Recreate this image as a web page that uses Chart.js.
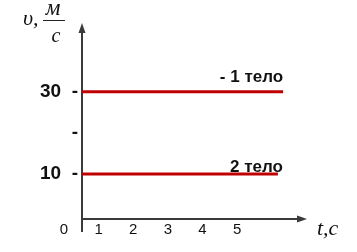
<!DOCTYPE html>
<html>
<head>
<meta charset="utf-8">
<script src="https://cdn.jsdelivr.net/npm/chart.js@4"></script>
<style>
  body { margin: 0; background: #fff; }
  #wrap { width: 357px; height: 252px; }
</style>
</head>
<body>
<div id="wrap"><canvas id="myChart" width="357" height="252"></canvas></div>
<script>
// ==== данные графика ====
const bodyNames = ['- 1 тело', '2 тело'];
const time1 = [0, 5.81];
const speed1 = [30, 30];
const time2 = [0, 5.66];
const speed2 = [10, 10];

const xTicks = [0, 1, 2, 3, 4, 5];
const yTicks = [10, 20, 30];
const yTickLabels = ['10  -', '-', '30  -'];

const xTitle = 't,c';
const yTitle = 'υ,';
const yUnitTop = 'м';
const yUnitBottom = 'с';

const lineColor = '#c00000';
const axisColor = '#3a3a3a';

const toPoints = (xs, ys) => xs.map((x, i) => ({ x: x, y: ys[i] }));

// ==== оси со стрелками ====
const axesPlugin = {
    id: 'axesPlugin',
    beforeDatasetsDraw(chart) {
        const ctx = chart.ctx;
        const a = chart.chartArea;
        ctx.save();
        ctx.strokeStyle = axisColor;
        ctx.fillStyle = axisColor;
        ctx.lineWidth = 2;

        ctx.beginPath();
        ctx.moveTo(a.left, a.top + 6);
        ctx.lineTo(a.left, a.bottom + 13);
        ctx.moveTo(a.left, a.bottom);
        ctx.lineTo(a.right - 6, a.bottom);
        ctx.stroke();

        // стрелка вверх
        ctx.beginPath();
        ctx.moveTo(a.left, a.top - 2);
        ctx.lineTo(a.left - 3.5, a.top + 8);
        ctx.lineTo(a.left + 3.5, a.top + 8);
        ctx.closePath();
        ctx.fill();

        // стрелка вправо
        ctx.beginPath();
        ctx.moveTo(a.right, a.bottom);
        ctx.lineTo(a.right - 10, a.bottom - 3.5);
        ctx.lineTo(a.right - 10, a.bottom + 3.5);
        ctx.closePath();
        ctx.fill();
        ctx.restore();
    },
    afterDatasetsDraw(chart) {
        const ctx = chart.ctx;
        const a = chart.chartArea;
        ctx.save();
        ctx.fillStyle = '#111';

        // подписи тел над линиями
        ctx.font = 'bold 17px "Liberation Sans", Arial, sans-serif';
        ctx.textAlign = 'right';
        ctx.textBaseline = 'alphabetic';
        const m1 = chart.getDatasetMeta(0).data;
        const m2 = chart.getDatasetMeta(1).data;
        const p1 = m1[m1.length - 1];
        const p2 = m2[m2.length - 1];
        ctx.fillText(bodyNames[0], p1.x, p1.y - 10);
        ctx.fillText(bodyNames[1], p2.x + 5, p2.y - 2);

        // подписи осей
        ctx.font = 'italic 22px "Liberation Serif", "DejaVu Serif", serif';
        ctx.textAlign = 'left';
        ctx.fillText(xTitle, a.right + 10, a.bottom + 16);

        ctx.font = 'italic 22px "Liberation Serif", "DejaVu Serif", serif';
        ctx.fillText(yTitle, 23, 25);
        ctx.textAlign = 'center';
        ctx.font = 'italic 23px "Liberation Serif", "DejaVu Serif", serif';
        ctx.fillText(yUnitTop, 53, 15);
        ctx.font = 'italic 20px "Liberation Serif", "DejaVu Serif", serif';
        ctx.fillText(yUnitBottom, 56, 42);
        ctx.strokeStyle = '#222';
        ctx.lineWidth = 1;
        ctx.beginPath();
        ctx.moveTo(43, 20.5);
        ctx.lineTo(65, 20.5);
        ctx.stroke();
        ctx.restore();
    }
};

const data = {
    datasets: [
        {
            label: bodyNames[0],
            data: toPoints(time1, speed1),
            borderColor: lineColor,
            borderWidth: 3,
            pointRadius: 0,
            showLine: true
        },
        {
            label: bodyNames[1],
            data: toPoints(time2, speed2),
            borderColor: lineColor,
            borderWidth: 3,
            pointRadius: 0,
            showLine: true
        }
    ]
};

const config = {
    type: 'scatter',
    data: data,
    options: {
        responsive: false,
        animation: false,
        devicePixelRatio: 1,
        layout: { padding: { left: 0, top: 25, right: 50, bottom: 0 } },
        plugins: {
            legend: { display: false },
            tooltip: { enabled: false }
        },
        scales: {
            x: {
                type: 'linear',
                min: 0,
                max: 6.5,
                afterBuildTicks: (s) => { s.ticks = xTicks.map(v => ({ value: v })); },
                afterFit: (s) => { s.height = 33; },
                grid: { display: false, drawTicks: false },
                border: { display: false },
                ticks: {
                    color: '#111',
                    padding: 2,
                    labelOffset: -18,
                    maxRotation: 0,
                    autoSkip: false,
                    font: { family: '"Liberation Sans", Arial, sans-serif', size: 15 }
                }
            },
            y: {
                type: 'linear',
                min: -1,
                max: 46.3,
                afterBuildTicks: (s) => { s.ticks = yTicks.map(v => ({ value: v })); },
                afterFit: (s) => { s.width = 82; },
                grid: { display: false, drawTicks: false },
                border: { display: false },
                ticks: {
                    color: '#111',
                    padding: 4,
                    autoSkip: false,
                    callback: (v) => yTickLabels[yTicks.indexOf(v)],
                    font: { family: '"Liberation Sans", Arial, sans-serif', size: 19, weight: 'bold' }
                }
            }
        }
    },
    plugins: [axesPlugin]
};

let myChart = new Chart(document.getElementById('myChart'), config);
</script>
</body>
</html>
